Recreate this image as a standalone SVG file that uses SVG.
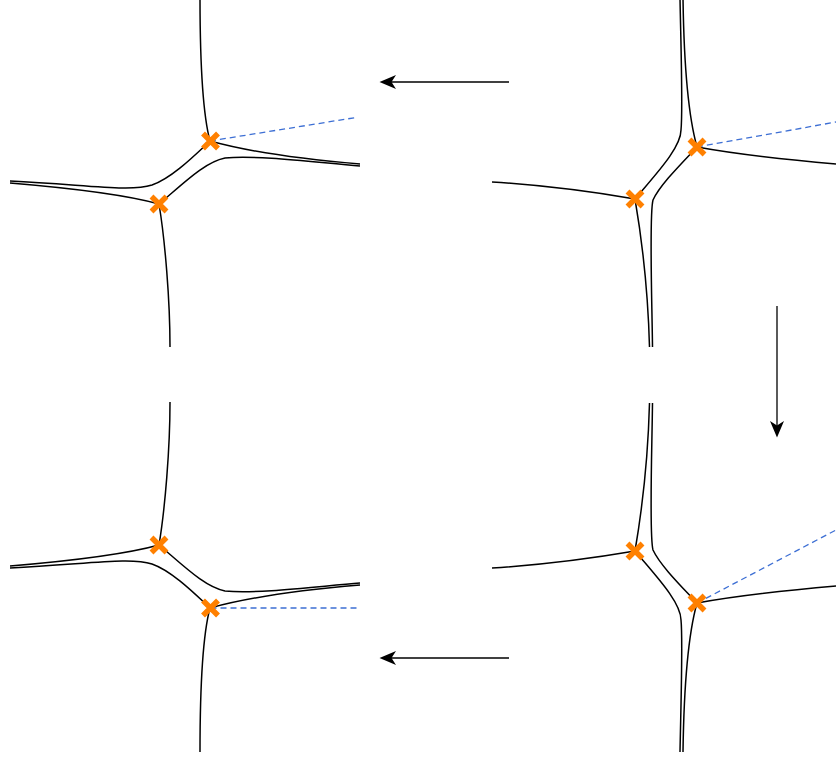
<svg xmlns="http://www.w3.org/2000/svg" xmlns:xlink="http://www.w3.org/1999/xlink" width="836" height="757" viewBox="0 0 836 757">
<style>
.c{fill:none;stroke:#000;stroke-width:1.5}
.d{fill:none;stroke:#3d6fd4;stroke-width:1.3;stroke-dasharray:6 4}
.xm{fill:none;stroke:#ff8000;stroke-width:5.5}
.ar{fill:none;stroke:#000;stroke-width:1.3}
</style>
<defs>
<path id="xm" class="xm" d="M-7.5,-7.5L7.5,7.5M-7.5,7.5L7.5,-7.5"/>
<marker id="ah" viewBox="0 0 18 14" markerWidth="18" markerHeight="14" refX="12" refY="7" orient="auto" markerUnits="userSpaceOnUse">
<path d="M0,0L16.5,7L0,14L4.5,7Z" fill="#000"/>
</marker>
</defs>
<rect width="836" height="757" fill="#fff"/>

<g id="panel-tl">
<path class="c" d="M200,-3C200,60 203,115 210,141C250,152 300,159 360,164"/>
<path class="c" d="M10,181C90,185 130,192 152,185C172,178 195,155 210,141"/>
<path class="c" d="M10,183C70,188 130,196 159,204C165,240 170,300 170,347"/>
<path class="c" d="M159,204C185,182 205,162 225,158C260,155 320,163 360,166"/>
<path class="d" d="M210,141L356,117.5"/>
<use xlink:href="#xm" x="210.5" y="141"/>
<use xlink:href="#xm" x="159" y="204"/>
</g>

<g id="panel-tr">
<path class="c" d="M680,-2C681,50 683,110 681,130C681,148 655,175 635,199C600,193 540,185 492,182"/>
<path class="c" d="M683,-2C684,70 688,115 697,147C730,153 790,160 836,164"/>
<path class="c" d="M697,147C680,165 660,185 653,200C649,215 652,300 652.5,347"/>
<path class="c" d="M635,199C642,240 648,290 649.5,347"/>
<path class="d" d="M697,147L836,122"/>
<use xlink:href="#xm" x="697" y="147"/>
<use xlink:href="#xm" x="635" y="199"/>
</g>

<g id="panel-bl">
<g transform="matrix(1 0 0 -1 0 749)">
<path class="c" d="M200,-3C200,60 203,115 210,141C250,152 300,159 360,164"/>
<path class="c" d="M10,181C90,185 130,192 152,185C172,178 195,155 210,141"/>
<path class="c" d="M10,183C70,188 130,196 159,204C165,240 170,300 170,347"/>
<path class="c" d="M159,204C185,182 205,162 225,158C260,155 320,163 360,166"/>
</g>
<path class="d" d="M210.5,608H357"/>
<use xlink:href="#xm" x="210.5" y="608"/>
<use xlink:href="#xm" x="159" y="545"/>
</g>

<g id="panel-br">
<g transform="matrix(1 0 0 -1 0 750)">
<path class="c" d="M680,-2C681,50 683,110 681,130C681,148 655,175 635,199C600,193 540,185 492,182"/>
<path class="c" d="M683,-2C684,70 688,115 697,147C730,153 790,160 836,164"/>
<path class="c" d="M697,147C680,165 660,185 653,200C649,215 652,300 652.5,347"/>
<path class="c" d="M635,199C642,240 648,290 649.5,347"/>
</g>
<path class="d" d="M697,603L836,530"/>
<use xlink:href="#xm" x="697" y="603"/>
<use xlink:href="#xm" x="635" y="551"/>
</g>

<g id="connectors">
<path class="ar" d="M509,82H384" marker-end="url(#ah)"/>
<path class="ar" d="M777,306V433" marker-end="url(#ah)"/>
<path class="ar" d="M509,658H384" marker-end="url(#ah)"/>
</g>
</svg>
